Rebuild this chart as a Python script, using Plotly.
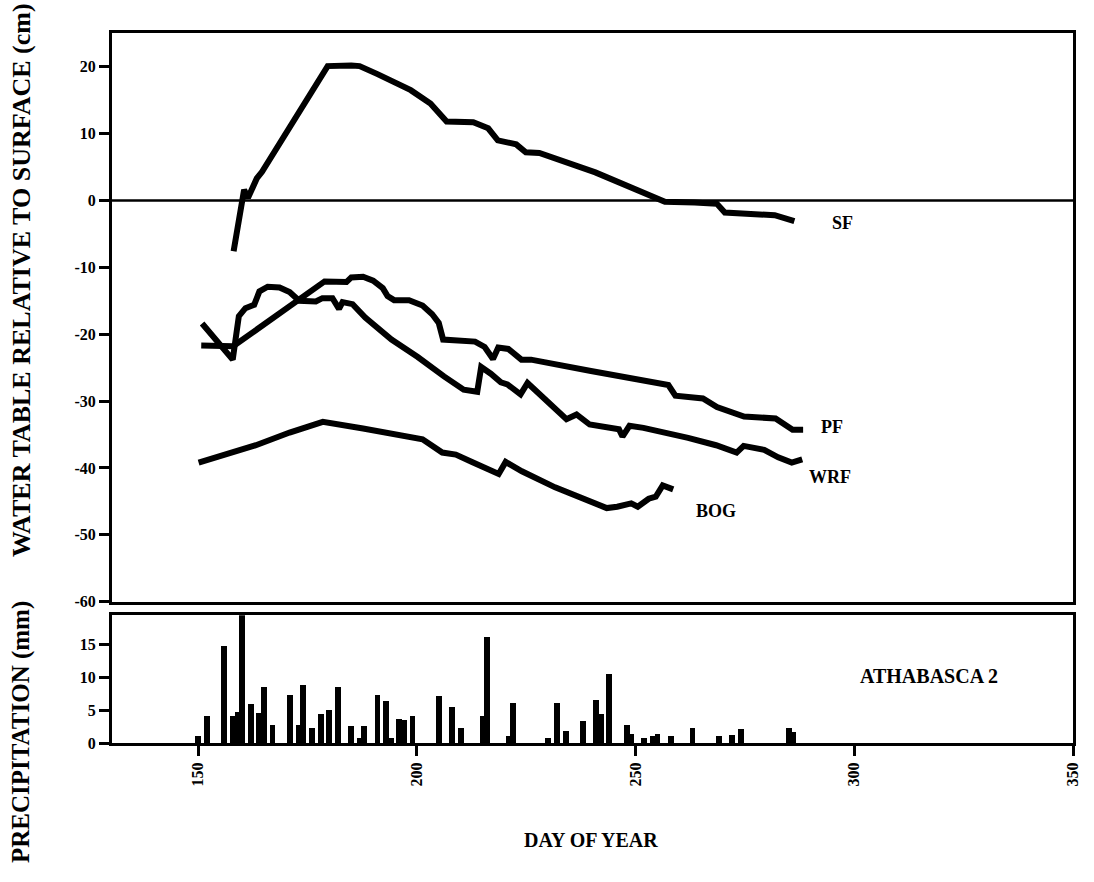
import plotly.graph_objects as go

# Water table depth relative to surface (cm) by day of year
sf_day = [158.1, 160.5, 161.4, 163.4, 164.6, 179.6, 185.0, 186.9, 191.0, 195.6, 198.6, 203.1,
          206.8, 212.9, 216.3, 218.5, 222.7, 224.9, 228.0, 240.8, 256.7, 263.5, 268.6, 270.4,
          281.8, 286.3]
sf_val = [-7.6, 1.6, 0.4, 3.3, 4.3, 20.1, 20.2, 20.1, 18.9, 17.3, 16.5, 14.5,
          11.8, 11.7, 10.8, 9.0, 8.4, 7.2, 7.1, 4.2, -0.2, -0.3, -0.5, -1.8,
          -2.2, -3.1]

pf_day = [150.7, 158.0, 178.9, 180.8, 183.9, 185.0, 187.7, 190.0, 192.2, 193.3, 194.8, 198.2,
          201.3, 203.5, 205.0, 206.0, 213.3, 215.5, 217.4, 218.6, 220.9, 223.9, 226.1, 239.8,
          257.5, 259.1, 265.4, 268.6, 274.8, 282.0, 285.9, 288.3]
pf_val = [-21.7, -21.8, -12.1, -12.1, -12.2, -11.5, -11.4, -12.0, -13.1, -14.3, -14.9, -14.9,
          -15.7, -17.0, -18.3, -20.8, -21.1, -21.9, -23.7, -22.0, -22.2, -23.8, -23.8, -25.5,
          -27.6, -29.2, -29.6, -30.9, -32.3, -32.6, -34.3, -34.3]

wrf_day = [150.9, 157.9, 158.8, 159.3, 160.8, 162.8, 164.0, 165.9, 168.6, 170.9, 173.1, 176.9,
           178.4, 180.7, 182.2, 183.0, 185.3, 188.2, 194.2, 200.2, 206.2, 210.7, 213.8, 214.7,
           216.9, 219.2, 220.7, 223.7, 225.3, 228.2, 230.5, 234.2, 236.5, 239.5, 246.2, 247.0,
           248.6, 251.8, 262.0, 268.4, 273.1, 274.7, 279.4, 282.6, 285.7, 288.1]
wrf_val = [-18.4, -23.8, -19.6, -17.3, -16.1, -15.6, -13.6, -12.9, -13.0, -13.7, -15.0, -15.1,
           -14.6, -14.6, -16.2, -15.2, -15.5, -17.5, -20.8, -23.4, -26.3, -28.3, -28.6, -24.9,
           -25.9, -27.2, -27.5, -29.0, -27.3, -29.1, -30.4, -32.7, -32.0, -33.5, -34.2, -35.3,
           -33.7, -34.0, -35.5, -36.6, -37.7, -36.7, -37.3, -38.4, -39.2, -38.7]

bog_day = [150.1, 155.5, 163.2, 170.9, 178.5, 187.7, 195.3, 201.3, 205.8, 208.9, 212.6, 218.7,
           220.3, 224.0, 231.6, 238.5, 243.4, 245.8, 249.0, 250.5, 253.0, 254.6, 256.2, 258.6]
bog_val = [-39.2, -38.1, -36.6, -34.7, -33.1, -34.1, -35.1, -35.7, -37.7, -38.0, -39.1, -40.9,
           -39.1, -40.5, -42.9, -44.6, -46.0, -45.8, -45.3, -45.8, -44.6, -44.3, -42.6, -43.2]

# Daily precipitation (mm)
precip_day = [150, 152, 156, 158, 159, 160, 162, 164, 165, 167, 171, 173, 174, 176, 178, 180,
              182, 185, 187, 188, 191, 193, 194, 196, 197, 199, 205, 208, 210, 215, 216, 221,
              222, 230, 232, 234, 238, 241, 242, 244, 248, 249, 252, 254, 255, 258, 263, 269,
              272, 274, 285, 286]
precip_mm = [1.0, 4.0, 14.7, 4.0, 4.7, 20.0, 5.9, 4.5, 8.5, 2.7, 7.3, 2.7, 8.7, 2.2, 4.4, 5.0,
             8.5, 2.5, 0.8, 2.6, 7.3, 6.4, 0.8, 3.6, 3.5, 4.1, 7.1, 5.4, 2.2, 4.1, 16.1, 1.0,
             6.1, 0.8, 6.1, 1.8, 3.3, 6.5, 4.4, 10.4, 2.7, 1.4, 0.8, 1.0, 1.4, 1.0, 2.2, 1.1,
             1.2, 2.1, 2.2, 1.6]

wt_ticks = [20, 10, 0, -10, -20, -30, -40, -50, -60]
wt_ticktext = ["20", "10", "0", "-10", "-20", "-30", "-40", "-50", "-60"]
pr_ticks = [0, 5, 10, 15]
day_ticks = [150, 200, 250, 300, 350]

SERIF = "Liberation Serif"
LINE_W = 6

fig = go.Figure()

for xs, ys in [(sf_day, sf_val), (pf_day, pf_val), (wrf_day, wrf_val), (bog_day, bog_val)]:
    fig.add_trace(go.Scatter(x=xs, y=ys, mode="lines",
                             line=dict(color="black", width=LINE_W),
                             xaxis="x", yaxis="y", showlegend=False, hoverinfo="skip"))

fig.add_trace(go.Bar(x=precip_day, y=precip_mm, width=1.35,
                     marker=dict(color="black", line=dict(width=0)),
                     xaxis="x2", yaxis="y2", showlegend=False, hoverinfo="skip"))

# surface reference line at 0 cm
fig.add_shape(type="line", xref="x domain", yref="y", x0=0, x1=1, y0=0, y1=0,
              line=dict(color="black", width=2.5))

tick_font = dict(family=SERIF, size=16, color="black", weight="bold")
frame = dict(showline=True, mirror=True, linecolor="black", linewidth=3,
             showgrid=False, zeroline=False)

fig.update_layout(
    width=1094, height=882,
    margin=dict(l=112, r=21, t=33, b=139),
    paper_bgcolor="white", plot_bgcolor="white",
    bargap=0,
    xaxis=dict(domain=[0, 1], anchor="y", range=[130.3, 350], showticklabels=False,
               ticks="", **frame),
    yaxis=dict(domain=[0.199, 1], anchor="x", range=[-60, 25.05], tickvals=wt_ticks,
               ticktext=wt_ticktext,
               ticks="outside", ticklen=10, tickwidth=2.5, tickcolor="black",
               tickfont=tick_font, **frame),
    xaxis2=dict(domain=[0, 1], anchor="y2", range=[130.3, 350], tickvals=day_ticks,
                tickangle=-90, ticks="outside", ticklen=10, tickwidth=2.5, tickcolor="black",
                tickfont=tick_font, **frame),
    yaxis2=dict(domain=[0, 0.180], anchor="x2", range=[0, 19.4], tickvals=pr_ticks,
                ticks="outside", ticklen=10, tickwidth=2.5, tickcolor="black",
                tickfont=tick_font, **frame),
)

label_font = dict(family=SERIF, size=18, color="black", weight="bold")
for txt, xd, yd in [("SF", 297.3, -3.4), ("PF", 295.0, -33.8),
                    ("WRF", 294.5, -41.4), ("BOG", 268.4, -46.4)]:
    fig.add_annotation(x=xd, y=yd, xref="x", yref="y", text=txt, showarrow=False,
                       font=label_font, xanchor="center", yanchor="middle")

fig.add_annotation(x=317.0, y=10.2, xref="x2", yref="y2", text="ATHABASCA 2",
                   showarrow=False, font=dict(family=SERIF, size=20, color="black", weight="bold"),
                   xanchor="center", yanchor="middle")

fig.add_annotation(x=(21 - 112) / 961, y=(743 - 280) / 710, xref="paper", yref="paper",
                   text="WATER TABLE RELATIVE TO SURFACE (cm)", textangle=-90,
                   showarrow=False, font=dict(family=SERIF, size=26, color="black", weight="bold"),
                   xanchor="center", yanchor="middle")
fig.add_annotation(x=(21 - 112) / 961, y=(743 - 732) / 710, xref="paper", yref="paper",
                   text="PRECIPITATION (mm)", textangle=-90,
                   showarrow=False, font=dict(family=SERIF, size=25, color="black", weight="bold"),
                   xanchor="center", yanchor="middle")
fig.add_annotation(x=(591 - 112) / 961, y=(743 - 840) / 710, xref="paper", yref="paper",
                   text="DAY OF YEAR", showarrow=False,
                   font=dict(family=SERIF, size=20, color="black", weight="bold"),
                   xanchor="center", yanchor="middle")

fig.write_html("out.html")
